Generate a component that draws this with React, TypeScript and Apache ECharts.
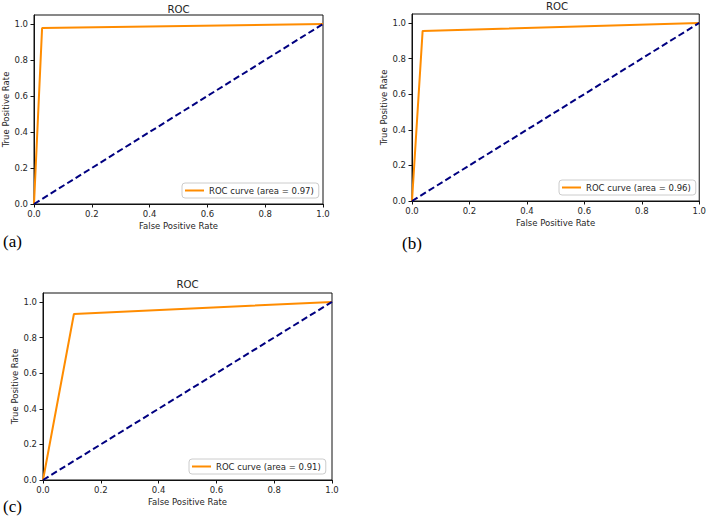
import React, { useEffect, useRef } from "react";
import * as echarts from "echarts";

// ROC curve points
const fprA = [0, 0.028, 1];
const tprA = [0, 0.978, 1];
const fprB = [0, 0.037, 1];
const tprB = [0, 0.955, 1];
const fprC = [0, 0.107, 1];
const tprC = [0, 0.932, 1];
const chanceX = [0, 1];
const chanceY = [0, 1];
const areas = ["0.97", "0.96", "0.91"];
const panelLabels = ["(a)", "(b)", "(c)"];
const tickValues = [0, 0.2, 0.4, 0.6, 0.8, 1.0];

const FONT = "DejaVu Sans";
const TXT = "#262626";

const zip = (xs: number[], ys: number[]) => xs.map((x, i) => [x, ys[i]]);

// panel layouts (pixels)
const panels = [
  { left: 34, top: 15, width: 289, height: 189, titleY: 9, legendLeft: 182, legendTop: 183, lab: [3, 241] },
  { left: 412, top: 14, width: 290, height: 187, titleY: 6, legendLeft: 559, legendTop: 180, lab: [402, 243] },
  { left: 43, top: 293, width: 289, height: 187, titleY: 284, legendLeft: 189, legendTop: 459, lab: [3, 506] },
];

export default function App() {
  const ref = useRef<HTMLDivElement>(null);
  useEffect(() => {
    document.body.style.margin = "0";
    if (!ref.current) return;
    const chart = echarts.init(ref.current, undefined, { renderer: "svg" });
    const curves = [zip(fprA, tprA), zip(fprB, tprB), zip(fprC, tprC)];
    const names = areas.map((a) => `ROC curve (area = ${a})`);

    const grids = panels.map((p) => ({
      left: p.left,
      top: p.top,
      width: p.width,
      height: p.height,
      show: true,
      borderColor: "#111",
      borderWidth: 1,
      backgroundColor: "#fff",
      containLabel: false,
    }));

    const axisCommon = {
      type: "value" as const,
      splitLine: { show: false },
      axisLine: { show: true, lineStyle: { color: "#111", width: 1 } },
      axisTick: { show: true, inside: false, length: 3.5, lineStyle: { color: "#111" }, customValues: tickValues },
      axisLabel: {
        customValues: tickValues,
        margin: 5,
        fontFamily: FONT,
        fontSize: 8.5,
        color: TXT,
        formatter: (v: number) => v.toFixed(1),
      },
      nameLocation: "middle" as const,
      nameTextStyle: { fontFamily: FONT, fontSize: 8.5, color: TXT },
    };

    const xAxes = panels.map((_, i) => ({
      ...axisCommon,
      gridIndex: i,
      min: 0,
      max: 1,
      interval: 0.2,
      name: "False Positive Rate",
      nameGap: 17,
    }));
    const yAxes = panels.map((_, i) => ({
      ...axisCommon,
      gridIndex: i,
      min: 0,
      max: 1.05,
      interval: 0.2,
      name: "True Positive Rate",
      nameGap: 24,
      axisLabel: { ...axisCommon.axisLabel, margin: 6 },
    }));

    const series: any[] = [];
    panels.forEach((_, i) => {
      series.push({
        type: "line",
        name: names[i],
        xAxisIndex: i,
        yAxisIndex: i,
        data: curves[i],
        symbol: "none",
        color: "#ff8c00",
        lineStyle: { color: "#ff8c00", width: 2 },
        z: 2,
      });
      series.push({
        type: "line",
        name: "chance" + i,
        xAxisIndex: i,
        yAxisIndex: i,
        data: zip(chanceX, chanceY),
        symbol: "none",
        color: "#000080",
        lineStyle: { color: "#000080", width: 2, type: [6.5, 3.3] },
        z: 3,
      });
    });

    const legends = panels.map((p, i) => ({
      data: [names[i]],
      left: p.legendLeft,
      top: p.legendTop,
      orient: "vertical",
      icon: "rect",
      itemWidth: 19,
      itemHeight: 2,
      padding: [3, 5, 3, 3],
      backgroundColor: "rgba(255,255,255,0.85)",
      borderColor: "#cccccc",
      borderWidth: 1,
      borderRadius: 3,
      selectedMode: false,
      textStyle: { fontFamily: FONT, fontSize: 8.5, color: TXT },
    }));

    const graphics: any[] = [];
    panels.forEach((p, i) => {
      graphics.push({
        type: "text",
        x: p.left + p.width / 2,
        y: p.titleY,
        style: {
          text: "ROC",
          fontFamily: FONT,
          fontSize: 10.2,
          fill: TXT,
          textAlign: "center",
          textVerticalAlign: "middle",
        },
      });
      graphics.push({
        type: "text",
        x: p.lab[0],
        y: p.lab[1],
        style: {
          text: panelLabels[i],
          fontFamily: "Liberation Serif",
          fontSize: 17,
          fill: "#000",
          textAlign: "left",
          textVerticalAlign: "middle",
        },
      });
    });

    chart.setOption({
      animation: false,
      backgroundColor: "#fff",
      grid: grids,
      xAxis: xAxes,
      yAxis: yAxes,
      legend: legends,
      series,
      graphic: graphics,
    });
    return () => chart.dispose();
  }, []);
  return <div ref={ref} style={{ width: 709, height: 518 }} />;
}
